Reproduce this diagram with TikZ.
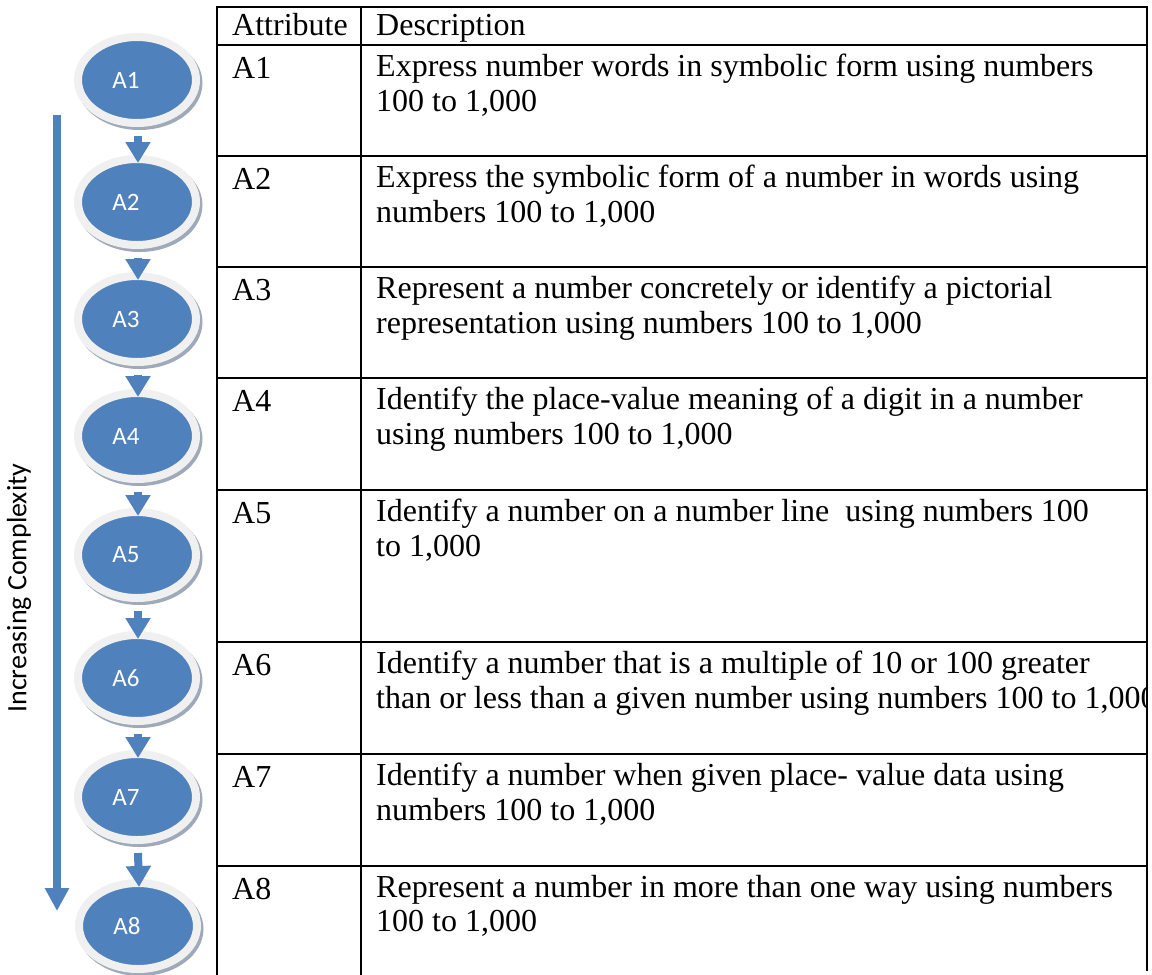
\documentclass[tikz,border=0pt]{standalone}
\usepackage{fontspec}
\setmainfont{Liberation Serif}
\newfontfamily\calib{Carlito}
\usetikzlibrary{shapes.geometric,arrows.meta,backgrounds}
\definecolor{ablue}{HTML}{4F81BD}
\definecolor{arim}{HTML}{F0F0F0}
\definecolor{ashadow}{HTML}{9EA9B9}
\begin{document}
\begin{tikzpicture}[x=1pt,y=-1pt,
  attnode/.style={shape=ellipse, minimum width=118pt, minimum height=86pt, inner sep=0pt, outer sep=0pt,
    fill=ablue, draw=arim, line width=8pt, text=white, font=\calib\fontsize{25}{30}\selectfont},
  flow/.style={draw=ablue, line width=8pt, -{Triangle[width=24pt,length=21pt]}},
  bigflow/.style={draw=ablue, line width=8pt, -{Triangle[width=23pt,length=23pt]}},
  cell/.style={anchor=north west, inner sep=0pt, align=left,
    font=\fontsize{32}{34.5}\selectfont, execute at begin node=\strut},
  grid/.style={draw=black, line width=2.5pt}]
\useasboundingbox (0,0) rectangle (1152,975);

% attribute ellipses
\node[attnode] (e1) at (137,80)  {A1\hspace*{22pt}};
\node[attnode] (e2) at (137,202) {A2\hspace*{22pt}};
\node[attnode] (e3) at (137,319) {A3\hspace*{22pt}};
\node[attnode] (e4) at (137,436) {A4\hspace*{22pt}};
\node[attnode] (e5) at (137,555) {A5\hspace*{22pt}};
\node[attnode] (e6) at (137,678) {A6\hspace*{22pt}};
\node[attnode] (e7) at (137,797) {A7\hspace*{22pt}};
\node[attnode] (e8) at (138,926) {A8\hspace*{22pt}};

\begin{scope}[on background layer]
  \foreach \n in {e1,e2,e3,e4,e5,e6,e7,e8}
    \fill[ashadow] ([shift={(2.5,3)}]\n.center) ellipse [x radius=63, y radius=47];
\end{scope}

% connectors between ellipses
\foreach \a/\b in {e1/e2,e2/e3,e3/e4,e4/e5,e5/e6,e6/e7,e7/e8}
  \draw[flow] ([shift={(1,13)}]\a.south) -- ([shift={(1,4)}]\b.north);

% increasing complexity arrow
\coordinate (bigtop) at (57,115);
\coordinate (bigtip) at (57,911);
\draw[bigflow] (bigtop) -- (bigtip);
\node[rotate=90, inner sep=0pt, font=\calib\fontsize{28}{34}\selectfont] (cx) at (19,588) {Increasing Complexity};

% table texts
\node[cell] (h1) at (232,11) {Attribute};
\node[cell] (h2) at (376,11) {Description};
\node[cell] (a1) at (232,54) {A1};
\node[cell] (a2) at (232,165) {A2};
\node[cell] (a3) at (232,276) {A3};
\node[cell] (a4) at (232,387) {A4};
\node[cell] (a5) at (232,499) {A5};
\node[cell] (a6) at (232,651) {A6};
\node[cell] (a7) at (232,763) {A7};
\node[cell] (a8) at (232,875) {A8};
\begin{scope}
  \clip (361,0) rectangle (1146,975);
  \node[cell] (d1) at (376,54) {Express number words in symbolic form using numbers\\100 to 1,000};
  \node[cell] (d2) at (376,165) {Express the symbolic form of a number in words using\\numbers 100 to 1,000};
  \node[cell] (d3) at (376,276) {Represent a number concretely or identify a pictorial\\representation using numbers 100 to 1,000};
  \node[cell] (d4) at (376,387) {Identify the place-value meaning of a digit in a number\\using numbers 100 to 1,000};
  \node[cell] (d5) at (376,499) {Identify a number on a number line\ \ using numbers 100\\to 1,000};
  \node[cell] (d6) at (376,651) {Identify a number that is a multiple of 10 or 100 greater\\than or less than a given number using numbers 100 to 1,000};
  \node[cell] (d7) at (376,763) {Identify a number when given place- value data using\\numbers 100 to 1,000};
  \node[cell] (d8) at (376,875) {Represent a number in more than one way using numbers\\100 to 1,000};
\end{scope}

% table grid
\foreach \yy in {7,45,156,267,378,490,642,754,866}
  \draw[grid] (215.75,\yy) -- (1148.25,\yy);
\draw[grid] (217,7) -- (217,975);
\draw[grid] (361,7) -- (361,975);
\draw[grid] (1147,7) -- (1147,971);
\end{tikzpicture}
\end{document}
